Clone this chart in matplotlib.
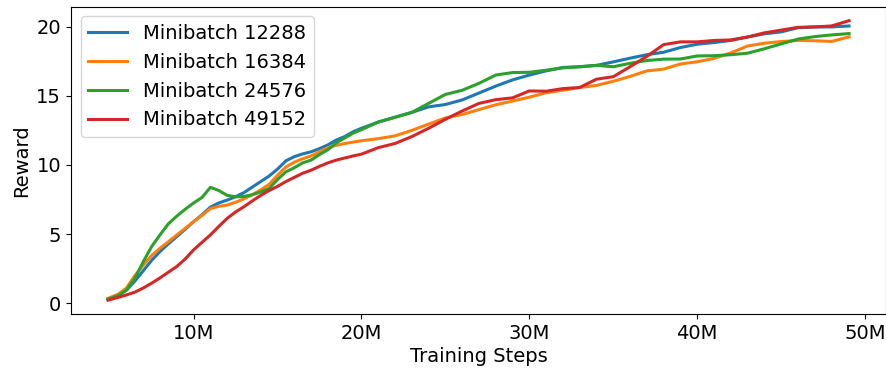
import matplotlib
matplotlib.use("Agg")
import matplotlib.pyplot as plt
from matplotlib.ticker import FuncFormatter, MultipleLocator

# Training steps (millions)
steps = [4.9, 5.5, 6.0, 6.5, 7.0, 7.5, 8.0, 8.5, 9.0, 9.5, 10.0, 10.5, 11.0, 11.5,
         12.0, 12.5, 13.0, 13.5, 14.0, 14.5, 15.0, 15.5, 16.0, 16.5, 17.0, 17.5,
         18.0, 18.5, 19.0, 19.5, 20.0, 21, 22, 23, 24, 25, 26, 27, 28, 29, 30,
         31, 32, 33, 34, 35, 36, 37, 38, 39, 40, 41, 42, 43, 44, 45, 46, 47, 48,
         49.05]

reward_12288 = [0.32, 0.55, 0.95, 1.6, 2.35, 3.1, 3.74, 4.3, 4.82, 5.35, 5.9, 6.4,
                6.95, 7.25, 7.46, 7.7, 8.0, 8.4, 8.8, 9.2, 9.7, 10.3, 10.6, 10.8,
                10.95, 11.18, 11.45, 11.8, 12.05, 12.4, 12.65, 13.1, 13.45, 13.8,
                14.2, 14.37, 14.7, 15.2, 15.7, 16.15, 16.5, 16.8, 17.05, 17.1, 17.2,
                17.45, 17.72, 17.97, 18.15, 18.49, 18.73, 18.85, 19.0, 19.25, 19.48,
                19.62, 19.92, 19.98, 19.98, 20.05]

reward_16384 = [0.35, 0.65, 1.1, 2.0, 2.75, 3.45, 3.98, 4.45, 4.94, 5.42, 5.9, 6.35,
                6.85, 7.0, 7.1, 7.3, 7.55, 7.85, 8.2, 8.6, 9.25, 9.85, 10.2, 10.45,
                10.65, 10.95, 11.25, 11.42, 11.55, 11.65, 11.75, 11.9, 12.1, 12.5,
                12.95, 13.4, 13.65, 14.0, 14.35, 14.62, 14.9, 15.22, 15.4, 15.6,
                15.75, 16.05, 16.4, 16.8, 16.93, 17.3, 17.46, 17.7, 18.1, 18.6, 18.8,
                18.92, 19.0, 18.98, 18.93, 19.26]

reward_24576 = [0.3, 0.55, 0.95, 1.8, 3.0, 4.1, 4.95, 5.75, 6.3, 6.8, 7.25, 7.65,
                8.38, 8.15, 7.8, 7.7, 7.72, 7.85, 8.05, 8.3, 8.95, 9.5, 9.8, 10.15,
                10.35, 10.75, 11.1, 11.6, 11.95, 12.3, 12.55, 13.1, 13.45, 13.8,
                14.45, 15.1, 15.4, 15.9, 16.5, 16.68, 16.7, 16.85, 17.02, 17.1, 17.2,
                17.1, 17.35, 17.55, 17.65, 17.66, 17.88, 17.9, 17.97, 18.08, 18.4,
                18.75, 19.1, 19.28, 19.4, 19.5]

reward_49152 = [0.22, 0.42, 0.6, 0.8, 1.1, 1.45, 1.83, 2.25, 2.66, 3.2, 3.86, 4.4,
                4.94, 5.55, 6.14, 6.6, 6.98, 7.4, 7.8, 8.15, 8.45, 8.8, 9.1, 9.4,
                9.62, 9.9, 10.15, 10.35, 10.5, 10.65, 10.78, 11.25, 11.55, 12.05,
                12.65, 13.3, 13.9, 14.45, 14.72, 14.85, 15.35, 15.33, 15.52, 15.6,
                16.2, 16.38, 17.1, 17.85, 18.7, 18.9, 18.9, 19.0, 19.04, 19.25,
                19.55, 19.75, 19.95, 19.98, 20.05, 20.43]

series = [
    ("Minibatch 12288", reward_12288, "#1f77b4"),
    ("Minibatch 16384", reward_16384, "#ff7f0e"),
    ("Minibatch 24576", reward_24576, "#2ca02c"),
    ("Minibatch 49152", reward_49152, "#d62728"),
]

fig = plt.figure(figsize=(8.87, 3.74), dpi=100)
ax = fig.add_axes([0.080, 0.160, 0.919, 0.822])

for label, values, color in series:
    ax.plot(steps, values, color=color, lw=2.2, label=label)

ax.xaxis.set_major_locator(MultipleLocator(10))
ax.xaxis.set_major_formatter(FuncFormatter(lambda v, p: f"{v:.0f}M"))
ax.yaxis.set_major_locator(MultipleLocator(5))
ax.tick_params(labelsize=14)
ax.set_xlabel("Training Steps", fontsize=14, labelpad=3)
ax.set_ylabel("Reward", fontsize=14)
ax.legend(loc="upper left", fontsize=14)

fig.savefig("out.png", dpi=100)
